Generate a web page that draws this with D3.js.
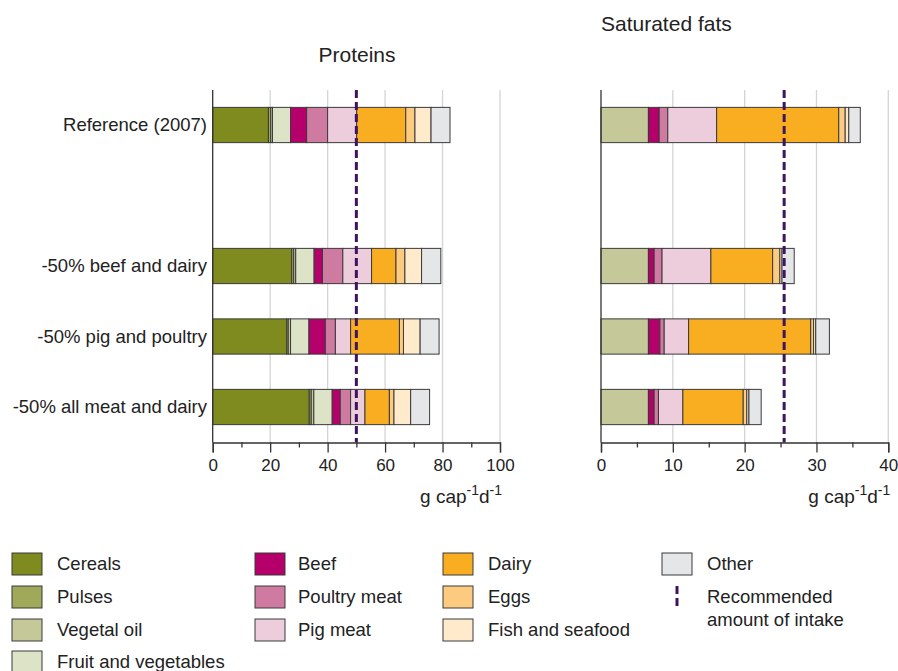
<!DOCTYPE html>
<html><head><meta charset="utf-8">
<script src="https://cdn.jsdelivr.net/npm/d3@7"></script>
<style>body{margin:0;background:#fff}svg{font-family:"Liberation Sans",Arial,sans-serif}</style>
</head><body><svg id="c" width="898" height="671"></svg>
<script>
const categories = ["Reference (2007)", "", "-50% beef and dairy", "-50% pig and poultry", "-50% all meat and dairy"];
const groups = ["Cereals","Pulses","Vegetal oil","Fruit and vegetables","Beef","Poultry meat","Pig meat","Dairy","Eggs","Fish and seafood","Other"];
const colors = ["#7F8A1F","#A0A85A","#C5C99A","#DDE3C6","#B5006B","#CF7AA0","#EDCCDC","#F9AE22","#FCCB80","#FFEBCC","#E5E6E8"];
const proteinRef   = [19.4,0.8,0.6,6.3,5.6,7.3,10.1,17.1,3.2,5.6,6.6];
const proteinBeef  = [27.5,0.7,0.7,6.4,2.9,7.1,10.0,8.5,3.1,5.8,6.7];
const proteinPig   = [25.8,0.5,0.8,6.4,5.7,3.5,5.3,17.0,1.4,5.8,6.6];
const proteinAll   = [33.6,0.7,0.9,6.4,2.8,3.6,5.0,8.5,1.6,5.8,6.6];
const fatRef  = [0,0,6.6,0,1.5,1.2,6.8,17.0,0.9,0.5,1.6];
const fatBeef = [0,0,6.6,0,0.8,1.1,6.8,8.6,1.0,0.3,1.7];
const fatPig  = [0,0,6.6,0,1.6,0.6,3.4,17.0,0.4,0.3,1.9];
const fatAll  = [0,0,6.6,0,0.8,0.6,3.4,8.4,0.5,0.3,1.7];
const proteinTicks = [0,20,40,60,80,100];
const fatTicks = [0,10,20,30,40];
const proteinRecommended = 50;
const fatRecommended = 25.5;

const svg = d3.select("#c");
const y = d3.scaleBand().domain(categories).range([89.75, 442.25]).paddingInner(0.5).paddingOuter(0.25);

function rows(series){
  const keys = [categories[0], categories[2], categories[3], categories[4]];
  return keys.map((k,i)=>{const o={cat:k}; groups.forEach((g,j)=>o[g]=series[i][j]); return o;});
}

function panel(opts){
  const x = d3.scaleLinear().domain(opts.domain).range(opts.range);
  const g = svg.append("g");
  const top = 90, bottom = 442.5;
  g.selectAll("line.grid").data(opts.ticks.slice(1)).join("line")
    .attr("x1",d=>x(d)).attr("x2",d=>x(d)).attr("y1",top).attr("y2",bottom)
    .attr("stroke","#d4d4d4").attr("stroke-width",1.3);
  const stack = d3.stack().keys(groups)(rows(opts.data));
  stack.forEach((layer,i)=>{
    g.selectAll(null).data(layer.filter(d=>d[1]-d[0]>0)).join("rect")
      .attr("x",d=>x(d[0])).attr("width",d=>x(d[1])-x(d[0]))
      .attr("y",d=>y(d.data.cat)).attr("height",y.bandwidth())
      .attr("fill",colors[i]).attr("stroke","#3a3a3a").attr("stroke-width",1);
  });
  g.append("line").attr("x1",x(opts.rec)).attr("x2",x(opts.rec)).attr("y1",top).attr("y2",bottom)
    .attr("stroke","#3F145E").attr("stroke-width",3).attr("stroke-dasharray","8,4");
  g.append("line").attr("x1",x(0)).attr("x2",x(0)).attr("y1",top).attr("y2",bottom)
    .attr("stroke","#333").attr("stroke-width",1.3);
  const ax = g.append("g").attr("transform",`translate(0,${bottom})`)
    .call(d3.axisBottom(x).tickValues(opts.ticks).tickSize(10).tickPadding(6).tickFormat(d3.format("d")));
  ax.select(".domain").attr("stroke","#333").attr("stroke-width",1.3);
  ax.selectAll(".tick line").attr("stroke","#333").attr("stroke-width",1.3);
  ax.selectAll("text").attr("font-size",17).attr("fill","#222").attr("font-family","Liberation Sans, Arial, sans-serif");
  g.append("g").attr("transform",`translate(0,${bottom})`)
    .call(d3.axisBottom(x).tickValues(opts.minor).tickSize(5).tickFormat(""))
    .call(s=>{s.select(".domain").remove(); s.selectAll("line").attr("stroke","#333").attr("stroke-width",1.3);});
  const t = g.append("text").attr("x",opts.range[1]+2).attr("y",503).attr("text-anchor","end")
    .attr("font-size",19).attr("fill","#222");
  t.append("tspan").text("g cap");
  t.append("tspan").text("-1").attr("font-size",14).attr("dy",-8);
  t.append("tspan").text("d").attr("dy",8);
  t.append("tspan").text("-1").attr("font-size",14).attr("dy",-8);
  svg.append("text").attr("x",opts.titleX).attr("y",opts.titleY).attr("text-anchor",opts.titleAnchor)
    .attr("font-size",21).attr("fill","#222").text(opts.title);
  return x;
}

panel({domain:[0,100],range:[212.7,500],ticks:proteinTicks,minor:[10,30,50,70,90],
  data:[proteinRef,proteinBeef,proteinPig,proteinAll],rec:proteinRecommended,
  title:"Proteins",titleX:357,titleY:62,titleAnchor:"middle"});
panel({domain:[0,40],range:[601,888.3],ticks:fatTicks,minor:[5,15,25,35],
  data:[fatRef,fatBeef,fatPig,fatAll],rec:fatRecommended,
  title:"Saturated fats",titleX:601,titleY:31,titleAnchor:"start"});

svg.selectAll("text.cat").data(categories.filter(c=>c)).join("text")
  .attr("x",207).attr("y",d=>y(d)+y.bandwidth()/2).attr("dy","0.35em").attr("text-anchor","end")
  .attr("font-size",18.5).attr("fill","#222").text(d=>d);

const legendCols = [
  {sx:12,sw:30,tx:57,items:[0,1,2,3]},
  {sx:255,sw:30,tx:298,items:[4,5,6]},
  {sx:443,sw:30,tx:488,items:[7,8,9]},
  {sx:662,sw:30,tx:707,items:[10]}
];
const rowY = [564,597,630,662];
legendCols.forEach(c=>{
  c.items.forEach((gi,r)=>{
    svg.append("rect").attr("x",c.sx).attr("y",rowY[r]-11).attr("width",c.sw).attr("height",22)
      .attr("fill",colors[gi]).attr("stroke","#3a3a3a").attr("stroke-width",1);
    svg.append("text").attr("x",c.tx).attr("y",rowY[r]).attr("dy","0.35em")
      .attr("font-size",18.5).attr("fill","#222").text(groups[gi]);
  });
});
svg.append("line").attr("x1",677).attr("x2",677).attr("y1",586).attr("y2",609)
  .attr("stroke","#3F145E").attr("stroke-width",3).attr("stroke-dasharray","8,4");
svg.append("text").attr("x",707).attr("y",597).attr("dy","0.35em").attr("font-size",18.5).attr("fill","#222").text("Recommended");
svg.append("text").attr("x",707).attr("y",620).attr("dy","0.35em").attr("font-size",18.5).attr("fill","#222").text("amount of intake");
</script></body></html>
